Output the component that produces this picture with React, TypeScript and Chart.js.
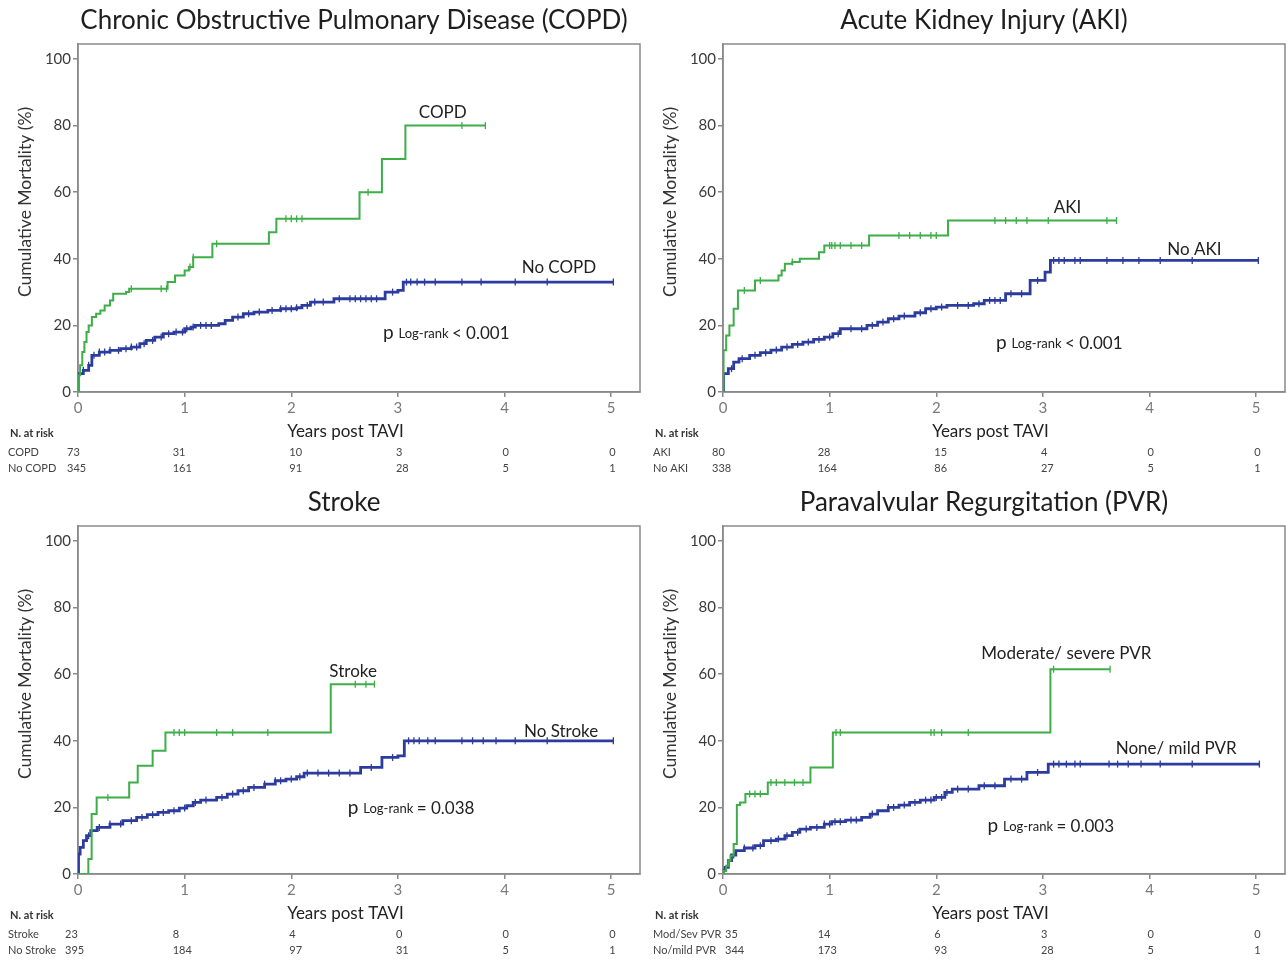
import React, { useEffect, useRef } from "react";
import { Chart, registerables } from "chart.js";
Chart.register(...registerables);

const FONT = "Lato, 'Open Sans', 'DejaVu Sans', sans-serif";
const GREEN = "#3dae48";
const BLUE = "#2c3b9e";
const FRAME = "#8a8a8a";
const X_MAX = 5.27;
const Y_MAX = 104.5;

const yearTicks = [0, 1, 2, 3, 4, 5];

// ---------- COPD ----------
const copdTimes = [0, 0.01, 0.02, 0.04, 0.06, 0.08, 0.1, 0.13, 0.17, 0.21, 0.25, 0.3, 0.33, 0.45, 0.48, 0.84, 0.91, 1.0, 1.04, 1.08, 1.26, 1.79, 1.86, 2.64, 2.85, 3.07, 3.82];
const copdValues = [0, 5, 8, 12, 15, 18, 20, 22.5, 23.5, 24.5, 26, 27.5, 29.5, 30, 31, 33, 35, 36.5, 37.5, 40.5, 44.5, 48, 52, 60, 70, 80, 80];
const copdCensor = [0.5, 0.78, 0.83, 1.05, 1.08, 1.3, 1.95, 2.0, 2.05, 2.1, 2.72, 3.6, 3.82];
const noCopdTimes = [0, 0.005, 0.05, 0.1, 0.13, 0.2, 0.3, 0.4, 0.5, 0.58, 0.64, 0.72, 0.8, 0.9, 1.0, 1.06, 1.1, 1.32, 1.38, 1.45, 1.55, 1.65, 1.78, 1.9, 2.05, 2.1, 2.18, 2.4, 2.88, 3.0, 3.05, 5.02];
const noCopdValues = [0, 5.5, 6.5, 8, 11, 12, 12.5, 13, 13.5, 14.5, 15.5, 16.5, 17.5, 18, 19, 19.5, 20, 20.5, 21.5, 22.5, 23.5, 24, 24.5, 25, 25.3, 26, 27, 28, 30, 30.5, 33, 33];
const noCopdCensor = [0.05, 0.1, 0.15, 0.2, 0.25, 0.3, 0.38, 0.45, 0.5, 0.55, 0.62, 0.7, 0.78, 0.85, 0.92, 0.98, 1.02, 1.08, 1.15, 1.2, 1.25, 1.5, 1.6, 1.7, 1.82, 1.9, 1.95, 2.0, 2.05, 2.15, 2.22, 2.3, 2.45, 2.55, 2.6, 2.65, 2.7, 2.75, 2.8, 2.95, 3.08, 3.12, 3.18, 3.25, 3.35, 3.6, 3.78, 4.1, 4.4, 5.02];
const copdRiskLabels = ["COPD", "No COPD"];
const copdRisk = [73, 31, 10, 3, 0, 0];
const noCopdRisk = [345, 161, 91, 28, 5, 1];

// ---------- AKI ----------
const akiTimes = [0, 0.005, 0.03, 0.06, 0.1, 0.14, 0.3, 0.52, 0.55, 0.58, 0.65, 0.72, 0.9, 0.95, 1.37, 2.11, 3.69];
const akiValues = [0, 12.5, 17, 20, 25, 30.5, 33.5, 35, 36.5, 38.5, 39, 40, 42, 44, 47, 51.5, 51.5];
const akiCensor = [0.2, 0.35, 0.65, 1.0, 1.02, 1.05, 1.1, 1.2, 1.3, 1.65, 1.75, 1.85, 1.95, 2.0, 2.55, 2.65, 2.75, 2.85, 3.05, 3.6, 3.69];
const noAkiTimes = [0, 0.005, 0.05, 0.1, 0.15, 0.25, 0.35, 0.45, 0.55, 0.65, 0.75, 0.85, 0.95, 1.03, 1.1, 1.35, 1.45, 1.55, 1.65, 1.8, 1.9, 2.0, 2.1, 2.35, 2.45, 2.65, 2.88, 3.02, 3.07, 5.02];
const noAkiValues = [0, 5.5, 7, 9, 10, 11, 11.8, 12.6, 13.5, 14.3, 15, 15.8, 16.5, 17.5, 19, 20, 21, 22, 22.8, 23.8, 25, 25.5, 26, 26.5, 27.5, 29.5, 33.5, 36, 39.5, 39.5];
const noAkiCensor = [0.08, 0.18, 0.3, 0.4, 0.5, 0.6, 0.7, 0.8, 0.9, 1.0, 1.08, 1.2, 1.3, 1.4, 1.5, 1.6, 1.7, 1.85, 1.95, 2.05, 2.2, 2.3, 2.4, 2.5, 2.55, 2.6, 2.7, 2.8, 2.95, 3.1, 3.15, 3.2, 3.3, 3.35, 3.6, 3.75, 3.9, 4.1, 4.4, 5.02];
const akiRiskLabels = ["AKI", "No AKI"];
const akiRisk = [80, 28, 15, 4, 0, 0];
const noAkiRisk = [338, 164, 86, 27, 5, 1];

// ---------- Stroke ----------
const strokeTimes = [0, 0.097, 0.128, 0.175, 0.48, 0.56, 0.7, 0.82, 2.37, 2.78];
const strokeValues = [0, 4.5, 18, 23, 27.5, 32.5, 37, 42.5, 57, 57];
const strokeCensor = [0.28, 0.9, 0.95, 1.0, 1.3, 1.45, 1.78, 2.6, 2.7, 2.78];
const noStrokeTimes = [0, 0.005, 0.02, 0.05, 0.08, 0.12, 0.18, 0.3, 0.42, 0.55, 0.65, 0.75, 0.85, 0.95, 1.02, 1.08, 1.15, 1.3, 1.4, 1.5, 1.6, 1.75, 1.85, 1.95, 2.05, 2.12, 2.65, 2.85, 3.0, 3.06, 5.02];
const noStrokeValues = [0, 6, 8, 10, 11.5, 13, 14, 15, 16, 17, 17.8, 18.5, 19, 19.8, 20.5, 21.5, 22.2, 23, 24, 25, 26, 27, 28, 28.5, 29.2, 30.3, 32, 35, 35.5, 40, 40];
const noStrokeCensor = [0.1, 0.2, 0.3, 0.4, 0.5, 0.6, 0.7, 0.8, 0.9, 1.0, 1.1, 1.2, 1.35, 1.45, 1.55, 1.65, 1.75, 1.85, 1.9, 2.0, 2.08, 2.15, 2.25, 2.35, 2.45, 2.55, 2.75, 2.95, 3.1, 3.15, 3.2, 3.28, 3.35, 3.6, 3.7, 3.8, 3.92, 4.1, 4.4, 5.02];
const strokeRiskLabels = ["Stroke", "No Stroke"];
const strokeRisk = [23, 8, 4, 0, 0, 0];
const noStrokeRisk = [395, 184, 97, 31, 5, 1];

// ---------- PVR ----------
const pvrTimes = [0, 0.01, 0.03, 0.05, 0.07, 0.1, 0.13, 0.16, 0.21, 0.42, 0.82, 1.03, 3.07, 3.63];
const pvrValues = [0, 1, 2.5, 4, 5.5, 9, 20.7, 21.5, 24, 27.5, 32, 42.5, 61.5, 61.5];
const pvrCensor = [0.25, 0.3, 0.35, 0.45, 0.5, 0.58, 0.67, 0.75, 1.06, 1.1, 1.95, 1.98, 2.05, 2.3, 3.1, 3.63];
const noPvrTimes = [0, 0.005, 0.02, 0.05, 0.08, 0.12, 0.2, 0.3, 0.38, 0.5, 0.58, 0.65, 0.72, 0.82, 0.95, 1.02, 1.15, 1.3, 1.38, 1.45, 1.55, 1.65, 1.75, 1.85, 1.98, 2.08, 2.15, 2.4, 2.64, 2.85, 3.05, 5.03];
const noPvrValues = [0, 1, 2, 4, 5.7, 7, 7.8, 8.5, 10, 10.5, 11.5, 12.5, 13.5, 14, 15, 15.7, 16.2, 17, 18, 19, 20, 20.7, 21.5, 22.2, 23, 24.5, 25.5, 26.5, 28.5, 30.5, 33, 33];
const noPvrCensor = [0.1, 0.2, 0.28, 0.35, 0.45, 0.52, 0.6, 0.7, 0.78, 0.88, 0.95, 1.0, 1.05, 1.1, 1.2, 1.25, 1.4, 1.55, 1.6, 1.7, 1.8, 1.9, 1.95, 2.0, 2.05, 2.1, 2.2, 2.3, 2.45, 2.55, 2.7, 2.8, 2.95, 3.1, 3.15, 3.22, 3.3, 3.35, 3.62, 3.7, 3.8, 3.92, 4.1, 4.4, 5.03];
const pvrRiskLabels = ["Mod/Sev PVR", "No/mild PVR"];
const pvrRisk = [35, 14, 6, 3, 0, 0];
const noPvrRisk = [344, 173, 93, 28, 5, 1];

type Curve = { times: number[]; values: number[]; censor: number[] };
type Panel = {
  title: string;
  titleX: number;
  left: number;
  top: number;
  height: number;
  green: Curve;
  blue: Curve;
  greenLabel: { text: string; x: number; y: number };
  blueLabel: { text: string; x: number; y: number };
  pText: { op: string; x: number; y: number };
  riskLabels: string[];
  risk: number[][];
  firstColOffset: number;
};

const panels: Panel[] = [
  {
    title: "Chronic Obstructive Pulmonary Disease (COPD)",
    titleX: 354,
    left: 0,
    top: 0,
    height: 482,
    green: { times: copdTimes, values: copdValues, censor: copdCensor },
    blue: { times: noCopdTimes, values: noCopdValues, censor: noCopdCensor },
    greenLabel: { text: "COPD", x: 3.42, y: 83.8 },
    blueLabel: { text: "No COPD", x: 4.51, y: 37.5 },
    pText: { op: "< 0.001", x: 2.86, y: 17.7 },
    riskLabels: copdRiskLabels,
    risk: [copdRisk, noCopdRisk],
    firstColOffset: -11,
  },
  {
    title: "Acute Kidney Injury (AKI)",
    titleX: 339,
    left: 645,
    top: 0,
    height: 482,
    green: { times: akiTimes, values: akiValues, censor: akiCensor },
    blue: { times: noAkiTimes, values: noAkiValues, censor: noAkiCensor },
    greenLabel: { text: "AKI", x: 3.23, y: 55.3 },
    blueLabel: { text: "No AKI", x: 4.42, y: 42.9 },
    pText: { op: "< 0.001", x: 2.56, y: 14.7 },
    riskLabels: akiRiskLabels,
    risk: [akiRisk, noAkiRisk],
    firstColOffset: -11,
  },
  {
    title: "Stroke",
    titleX: 344,
    left: 0,
    top: 482,
    height: 478,
    green: { times: strokeTimes, values: strokeValues, censor: strokeCensor },
    blue: { times: noStrokeTimes, values: noStrokeValues, censor: noStrokeCensor },
    greenLabel: { text: "Stroke", x: 2.58, y: 60.7 },
    blueLabel: { text: "No Stroke", x: 4.53, y: 42.9 },
    pText: { op: "= 0.038", x: 2.53, y: 19.8 },
    riskLabels: strokeRiskLabels,
    risk: [strokeRisk, noStrokeRisk],
    firstColOffset: -13,
  },
  {
    title: "Paravalvular Regurgitation (PVR)",
    titleX: 339,
    left: 645,
    top: 482,
    height: 478,
    green: { times: pvrTimes, values: pvrValues, censor: pvrCensor },
    blue: { times: noPvrTimes, values: noPvrValues, censor: noPvrCensor },
    greenLabel: { text: "Moderate/ severe PVR", x: 3.22, y: 66.1 },
    blueLabel: { text: "None/ mild PVR", x: 4.25, y: 37.8 },
    pText: { op: "= 0.003", x: 2.48, y: 14.4 },
    riskLabels: pvrRiskLabels,
    risk: [pvrRisk, noPvrRisk],
    firstColOffset: 2,
  },
];

function stepAt(times: number[], values: number[], t: number) {
  let v = values[0];
  for (let i = 0; i < times.length; i++) if (times[i] <= t) v = values[i];
  return v;
}
const curvePoints = (c: Curve) => c.times.map((t, i) => ({ x: t, y: c.values[i] }));
const censorPoints = (c: Curve) => c.censor.map((t) => ({ x: t, y: stepAt(c.times, c.values, t) }));

function textPlugin(panel: Panel) {
  return {
    id: "kmText",
    beforeDatasetsDraw(chart: any) {
      const { ctx, chartArea: a } = chart;
      ctx.save();
      ctx.strokeStyle = FRAME;
      ctx.lineWidth = 1.5;
      ctx.strokeRect(a.left, a.top, a.right - a.left, a.bottom - a.top);
      ctx.restore();
    },
    afterDraw(chart: any) {
      const { ctx, chartArea: a } = chart;
      const xs = chart.scales.x;
      const ys = chart.scales.y;
      ctx.save();
      ctx.textBaseline = "middle";
      ctx.textAlign = "center";
      ctx.fillStyle = "#1e1e1e";
      ctx.font = `26px ${FONT}`;
      ctx.fillText(panel.title, panel.titleX, 21);

      ctx.save();
      ctx.translate(25, 202);
      ctx.rotate(-Math.PI / 2);
      ctx.fillStyle = "#333";
      ctx.font = `17.5px ${FONT}`;
      ctx.fillText("Cumulative Mortality (%)", 0, 0);
      ctx.restore();

      ctx.fillStyle = "#222";
      ctx.font = `17px ${FONT}`;
      ctx.fillText("Years post TAVI", 345.5, a.bottom + 40);

      ctx.font = `17px ${FONT}`;
      for (const lb of [panel.greenLabel, panel.blueLabel]) {
        ctx.fillText(lb.text, xs.getPixelForValue(lb.x), ys.getPixelForValue(lb.y));
      }

      ctx.textAlign = "left";
      let px = xs.getPixelForValue(panel.pText.x);
      const py = ys.getPixelForValue(panel.pText.y);
      ctx.font = `19px ${FONT}`;
      ctx.fillText("p", px, py);
      px += ctx.measureText("p ").width;
      ctx.font = `13px ${FONT}`;
      ctx.fillText("Log-rank", px, py + 1);
      px += ctx.measureText("Log-rank ").width;
      ctx.font = `17px ${FONT}`;
      ctx.fillText(panel.pText.op, px, py);

      ctx.font = `bold 11px ${FONT}`;
      ctx.fillStyle = "#333";
      ctx.fillText("N. at risk", 10, a.bottom + 41);
      ctx.font = `11px ${FONT}`;
      ctx.fillStyle = "#444";
      panel.risk.forEach((row, r) => {
        const y = a.bottom + 60 + r * 16;
        ctx.fillText(panel.riskLabels[r], 8, y);
        row.forEach((v, i) => {
          const base = xs.getPixelForValue(yearTicks[i]);
          const off = i === 0 ? panel.firstColOffset : i === 1 ? -12 : -2;
          ctx.fillText(String(v), base + off, y);
        });
      });
      ctx.restore();
    },
  };
}

function buildConfig(panel: Panel): any {
  const axisH = panel.height - 392;
  const grid = {
    display: true,
    drawOnChartArea: false,
    drawTicks: true,
    tickLength: 5,
    color: FRAME,
    lineWidth: 1.5,
  };
  const border = { display: true, color: FRAME, width: 1.5 };
  return {
    type: "line",
    data: {
      datasets: [
        {
          data: censorPoints(panel.green),
          showLine: false,
          pointStyle: "line",
          pointRotation: 90,
          pointRadius: 3.5,
          pointBorderWidth: 1.3,
          pointBorderColor: GREEN,
          borderColor: GREEN,
          backgroundColor: GREEN,
        },
        {
          data: curvePoints(panel.green),
          stepped: "before",
          borderColor: GREEN,
          borderWidth: 2,
          pointRadius: 0,
          fill: false,
        },
        {
          data: censorPoints(panel.blue),
          showLine: false,
          pointStyle: "line",
          pointRotation: 90,
          pointRadius: 3.5,
          pointBorderWidth: 1.3,
          pointBorderColor: BLUE,
          borderColor: BLUE,
          backgroundColor: BLUE,
        },
        {
          data: curvePoints(panel.blue),
          stepped: "before",
          borderColor: BLUE,
          borderWidth: 2.8,
          pointRadius: 0,
          fill: false,
        },
      ],
    },
    options: {
      responsive: false,
      animation: false,
      devicePixelRatio: 1,
      events: [],
      layout: { autoPadding: false, padding: { top: 44, right: 1, bottom: 0, left: 0 } },
      plugins: {
        legend: { display: false },
        tooltip: { enabled: false },
        title: { display: false },
      },
      scales: {
        x: {
          type: "linear",
          min: 0,
          max: X_MAX,
          afterFit(s: any) {
            s.height = axisH;
            s.paddingLeft = 0;
            s.paddingRight = 0;
          },
          ticks: {
            stepSize: 1,
            includeBounds: false,
            color: "#7a7a7a",
            font: { size: 15, family: FONT },
            padding: 2,
            maxRotation: 0,
            autoSkip: false,
          },
          grid,
          border,
        },
        y: {
          type: "linear",
          min: 0,
          max: Y_MAX,
          afterFit(s: any) {
            s.width = 78;
            s.paddingTop = 0;
            s.paddingBottom = 0;
          },
          ticks: {
            stepSize: 20,
            includeBounds: false,
            color: "#3a3a3a",
            font: { size: 15, family: FONT },
            padding: 2,
          },
          grid,
          border,
        },
      },
    },
    plugins: [textPlugin(panel)],
  };
}

function KMPanel({ panel }: { panel: Panel }) {
  const ref = useRef<HTMLCanvasElement>(null);
  useEffect(() => {
    if (!ref.current) return;
    const chart = new Chart(ref.current, buildConfig(panel));
    return () => chart.destroy();
  }, [panel]);
  return (
    <canvas
      ref={ref}
      width={641}
      height={panel.height}
      style={{ position: "absolute", left: panel.left, top: panel.top, width: 641, height: panel.height }}
    />
  );
}

export default function App() {
  Chart.defaults.font.family = FONT;
  return (
    <div style={{ position: "absolute", left: 0, top: 0, width: 1286, height: 960, background: "#fff", overflow: "hidden" }}>
      {panels.map((p, i) => (
        <KMPanel key={i} panel={p} />
      ))}
    </div>
  );
}
